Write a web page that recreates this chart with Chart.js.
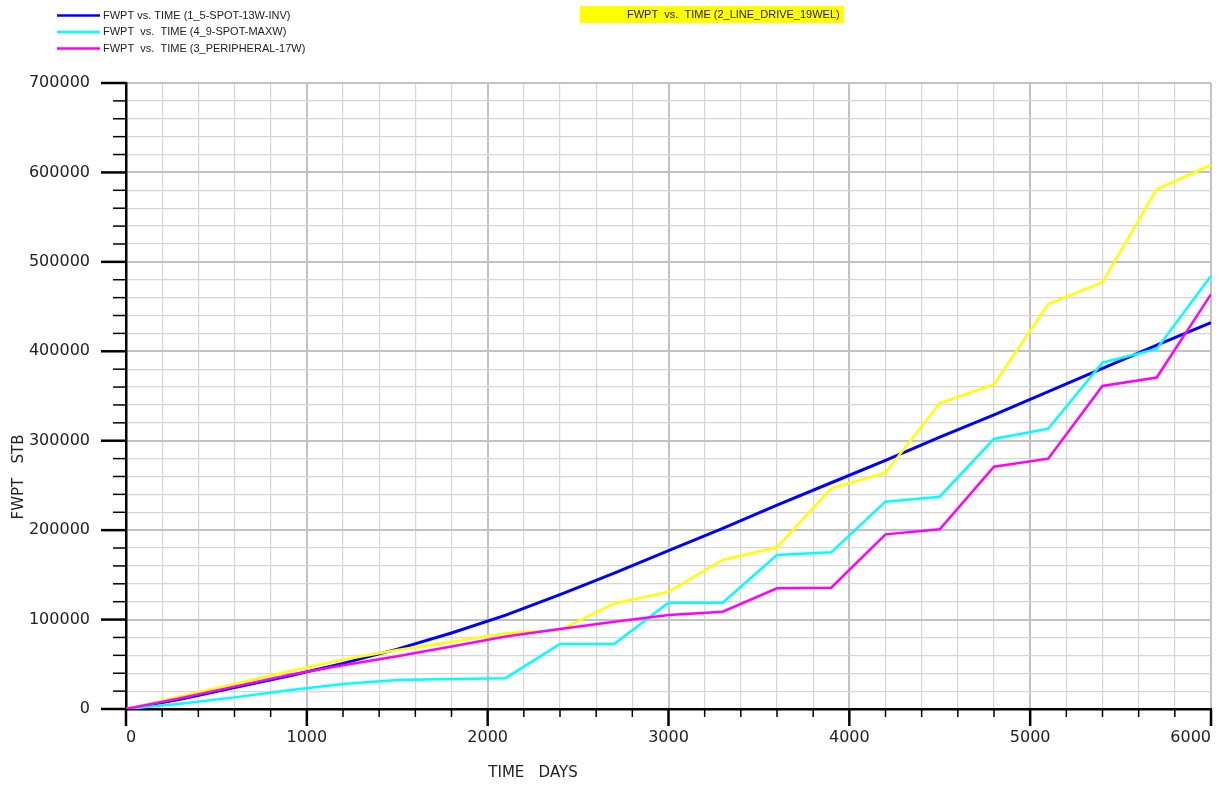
<!DOCTYPE html>
<html>
<head>
<meta charset="utf-8">
<script src="https://cdn.jsdelivr.net/npm/chart.js@4/dist/chart.umd.min.js"></script>
<style>
  html, body { margin: 0; padding: 0; background: #ffffff; }
  #c { display: block; }
</style>
</head>
<body>
<canvas id="c" width="1221" height="786"></canvas>
<script>
// Report time steps (days)
const days = [0, 300, 600, 900, 1200, 1500, 1800, 2100, 2400, 2700, 3000,
              3300, 3600, 3900, 4200, 4500, 4800, 5100, 5400, 5700, 6000];

// Field water production total (STB) per case
const fwpt5Spot13wInv = [0, 11000, 24000, 37000, 51000, 67000, 85000, 105000, 128000, 152000, 177000,
                         202000, 228000, 253000, 278000, 304000, 329000, 355000, 381000, 407000, 432000];
const fwpt9SpotMaxw   = [0, 6000, 13000, 21000, 28000, 32500, 33500, 34500, 72700, 72700, 118900,
                         118900, 172200, 175200, 231800, 237400, 301900, 313400, 387200, 402600, 484200];
const fwptPeripheral  = [0, 12000, 25000, 38000, 49000, 59000, 70000, 81000, 89500, 97600, 105100,
                         108800, 135000, 135600, 195300, 200900, 271000, 279900, 361200, 370700, 463700];
const fwptLineDrive   = [0, 14000, 28000, 42000, 55000, 66000, 75000, 84600, 88300, 118000, 131000,
                         166600, 180800, 246800, 264200, 341800, 363000, 452900, 477100, 581100, 608300];

const seriesNames = [
  'FWPT vs. TIME (1_5-SPOT-13W-INV)',
  'FWPT  vs.  TIME (4_9-SPOT-MAXW)',
  'FWPT  vs.  TIME (3_PERIPHERAL-17W)',
  'FWPT  vs.  TIME (2_LINE_DRIVE_19WEL)'
];
const xTitle = 'TIME   DAYS';
const yTitle = 'FWPT   STB';

const toPoints = (ys) => days.map((d, i) => ({ x: d, y: ys[i] }));

const FONT = '"DejaVu Sans", sans-serif';
const LFONT = '"Liberation Sans", Arial, sans-serif';

// Axis tick marks: long at labelled values, short in between
const tickMarks = {
  id: 'tickMarks',
  afterDraw(chart) {
    const { ctx, chartArea } = chart;
    const xs = chart.scales.x, ys = chart.scales.y;
    ctx.save();
    ctx.strokeStyle = '#000';
    ys.ticks.forEach(t => {
      const py = ys.getPixelForValue(t.value);
      const major = t.value % 100000 === 0;
      ctx.lineWidth = major ? 2.5 : 1.5;
      ctx.beginPath();
      ctx.moveTo(chartArea.left - (major ? 25 : 13), py);
      ctx.lineTo(chartArea.left, py);
      ctx.stroke();
    });
    xs.ticks.forEach(t => {
      const px = xs.getPixelForValue(t.value);
      const major = t.value % 1000 === 0;
      ctx.lineWidth = major ? 2.5 : 1.5;
      ctx.beginPath();
      ctx.moveTo(px, chartArea.bottom);
      ctx.lineTo(px, chartArea.bottom + (major ? 17 : 8));
      ctx.stroke();
    });
    ctx.restore();
  }
};

// Legend block and axis titles
const annotations = {
  id: 'annotations',
  afterDraw(chart) {
    const { ctx, chartArea } = chart;
    const ds = chart.data.datasets;
    ctx.save();
    ctx.font = '11px ' + LFONT;
    ctx.textBaseline = 'middle';
    ctx.textAlign = 'left';
    const rows = [0, 1, 2];
    rows.forEach((idx, r) => {
      const y = 15.5 + r * 16.5;
      ctx.strokeStyle = ds[idx].borderColor;
      ctx.lineWidth = 2.5;
      ctx.beginPath();
      ctx.moveTo(57, y);
      ctx.lineTo(100, y);
      ctx.stroke();
      ctx.fillStyle = '#222';
      ctx.fillText(ds[idx].label, 103, y);
    });
    // highlighted entry
    ctx.fillStyle = '#ffff00';
    ctx.fillRect(580, 6, 264, 17);
    ctx.strokeStyle = ds[3].borderColor;
    ctx.lineWidth = 2.5;
    ctx.beginPath();
    ctx.moveTo(582, 15);
    ctx.lineTo(624, 15);
    ctx.stroke();
    ctx.fillStyle = '#222';
    ctx.fillText(ds[3].label, 627, 15);

    // axis titles
    ctx.font = '15px ' + FONT;
    ctx.fillStyle = '#222';
    ctx.textAlign = 'center';
    ctx.fillText(xTitle, chartArea.left + 407, 773);
    ctx.translate(19, 477);
    ctx.rotate(-Math.PI / 2);
    ctx.fillText(yTitle, 0, 0);
    ctx.restore();
  }
};

const gridColor = (step) => (c) => (c.tick && c.tick.value % step === 0) ? '#c2c2c2' : '#d6d6d6';
const gridWidth = (step) => (c) => (c.tick && c.tick.value % step === 0) ? 2 : 1.2;

new Chart(document.getElementById('c'), {
  type: 'line',
  data: {
    datasets: [
      { label: seriesNames[0], data: toPoints(fwpt5Spot13wInv), borderColor: '#0000ff', borderWidth: 3, order: 4 },
      { label: seriesNames[1], data: toPoints(fwpt9SpotMaxw),   borderColor: '#00ffff', borderWidth: 2.5, order: 2 },
      { label: seriesNames[2], data: toPoints(fwptPeripheral),  borderColor: '#ff00ff', borderWidth: 2.5, order: 1 },
      { label: seriesNames[3], data: toPoints(fwptLineDrive),   borderColor: '#ffff00', borderWidth: 2.5, order: 3 }
    ]
  },
  options: {
    responsive: false,
    animation: false,
    devicePixelRatio: 1,
    elements: { point: { radius: 0 }, line: { tension: 0, fill: false } },
    layout: { padding: { top: 83, right: 10, left: 0, bottom: 0 } },
    plugins: { legend: { display: false }, tooltip: { enabled: false } },
    scales: {
      x: {
        type: 'linear',
        min: 0, max: 6000,
        afterFit(s) { s.height = 77; s.paddingLeft = 0; s.paddingRight = 0; },
        ticks: {
          stepSize: 200,
          autoSkip: false,
          maxRotation: 0,
          align: 'inner',
          padding: 19,
          color: '#222',
          font: { family: FONT, size: 16 },
          callback: (v) => (v % 1000 === 0 ? String(v) : '')
        },
        grid: { drawTicks: false, color: gridColor(1000), lineWidth: gridWidth(1000) },
        border: { display: true, color: '#000', width: 2.5 }
      },
      y: {
        type: 'linear',
        min: 0, max: 700000,
        afterFit(s) { s.width = 126; s.paddingTop = 0; s.paddingBottom = 0; },
        ticks: {
          stepSize: 20000,
          autoSkip: false,
          padding: 36,
          color: '#222',
          font: { family: FONT, size: 16 },
          callback: (v) => (v % 100000 === 0 ? String(v) : '')
        },
        grid: { drawTicks: false, color: gridColor(100000), lineWidth: gridWidth(100000) },
        border: { display: true, color: '#000', width: 2.5 }
      }
    }
  },
  plugins: [tickMarks, annotations]
});
</script>
</body>
</html>
